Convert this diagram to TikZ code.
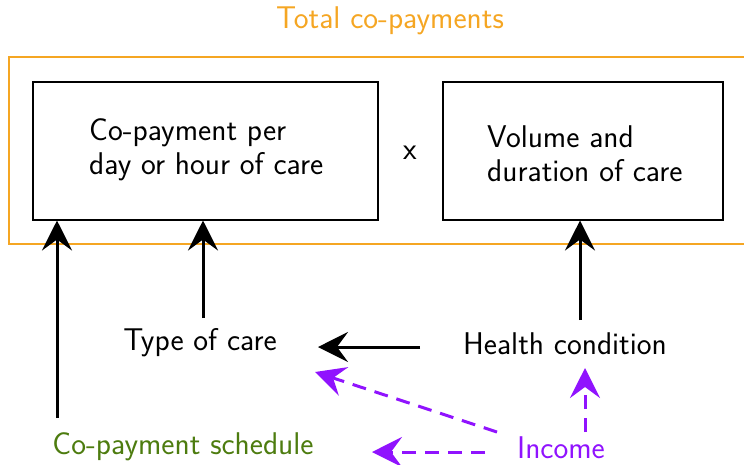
\documentclass[tikz,border=0pt]{standalone}
\usepackage{fontspec}
\setsansfont{Latin Modern Sans}
\usetikzlibrary{arrows.meta}
\definecolor{corange}{RGB}{245,166,35}
\definecolor{cgreen}{RGB}{77,124,15}
\definecolor{cpurple}{RGB}{144,19,254}
\begin{document}
\begin{tikzpicture}[x=1pt,y=-1pt,
  font=\sffamily\fontsize{31.4}{34}\selectfont,
  box/.style={draw,line width=1.5pt,anchor=north west,inner sep=0pt},
  lab/.style={inner sep=0pt},
  arr/.style={line width=3pt,-{Stealth[length=30pt,width=30pt,inset=11pt]}},
  darr/.style={cpurple,line width=3pt,dash pattern=on 14pt off 9pt,-{Stealth[length=30pt,width=30pt,inset=11pt]}}]
\useasboundingbox (0,0) rectangle (744,464);
\clip (0,0) rectangle (744,464);
\node[lab,text=corange] (title) at (390,21) {Total co-payments};
\node[draw=corange,line width=1.5pt,minimum width=770pt,minimum height=187pt,anchor=north west,inner sep=0pt] (outer) at (8,56) {};
\node[box,minimum width=345pt,minimum height=138pt] (b1) at (32,81) {};
\node[box,minimum width=280pt,minimum height=138pt] (b2) at (442,81) {};
\node[lab,anchor=west,align=left] (t1) at (89,150) {Co-payment per\\day or hour of care};
\node[lab,anchor=west,align=left] (t2) at (487,154) {Volume and\\duration of care};
\node[lab] (times) at (410,153) {x};
\node[lab] (type) at (200,343) {Type of care};
\node[lab] (health) at (565,344) {Health condition};
\node[lab,text=cgreen] (sched) at (183,447) {Co-payment schedule};
\node[lab,text=cpurple] (inc) at (561,448) {Income};
\coordinate (s1) at (57,418);
\draw[arr] (s1) -- (b1.south -| s1);
\coordinate (s2) at (203,318);
\draw[arr] (s2) -- (b1.south -| s2);
\coordinate (s3) at (580,320);
\draw[arr] (s3) -- (b2.south -| s3);
\coordinate (h1) at (420,347);
\coordinate (h2) at (318,347);
\draw[arr] (h1) -- (h2);
\coordinate (i1) at (497,432);
\coordinate (i2) at (315,372);
\draw[darr] (i1) -- (i2);
\coordinate (j1) at (485,452);
\coordinate (j2) at (372,452);
\draw[darr] (j1) -- (j2);
\coordinate (k1) at (585,432);
\coordinate (k2) at (585,368);
\draw[darr] (k1) -- (k2);
\end{tikzpicture}
\end{document}
